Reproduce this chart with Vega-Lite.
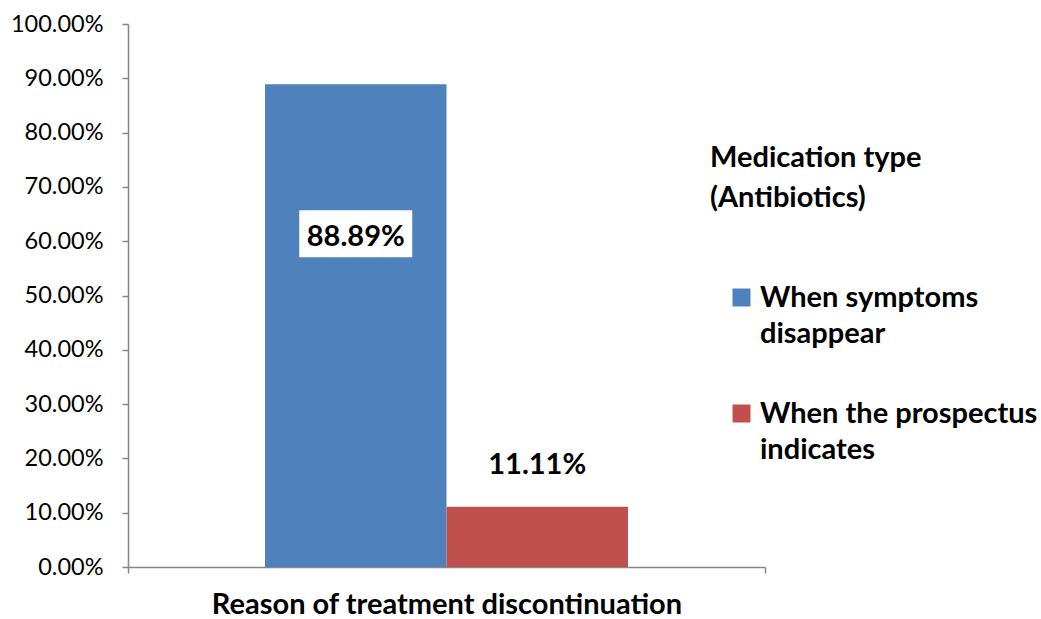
{
  "$schema": "https://vega.github.io/schema/vega-lite/v6.json",
  "width": 637,
  "height": 543,
  "autosize": "none",
  "padding": {"left": 128, "top": 24, "right": 276, "bottom": 52},
  "background": "white",
  "config": {"view": {"stroke": null}, "font": "Lato", "style": {"guide-label": {"lineHeight": 36}}},
  "data": {
    "values": [
      {"reason": "Reason of treatment discontinuation", "series": "When symptoms disappear", "value": 0.8889},
      {"reason": "Reason of treatment discontinuation", "series": "When the prospectus indicates", "value": 0.1111}
    ]
  },
  "encoding": {
    "x": {
      "field": "reason", "type": "nominal",
      "scale": {"paddingInner": 0, "paddingOuter": 0},
      "axis": {
        "labels": false, "title": "Reason of treatment discontinuation",
        "titleFont": "Lato", "titleFontSize": 29, "titleFontWeight": "bold", "titleColor": "black",
        "titlePadding": 17, "titleLimit": 700, "tickBand": "extent", "tickSize": 6,
        "domainColor": "#868686", "tickColor": "#868686", "domainWidth": 1.5, "tickWidth": 1.5
      }
    },
    "xOffset": {"field": "series", "type": "nominal", "sort": null, "scale": {"paddingInner": 0, "paddingOuter": 0.755}},
    "y": {
      "field": "value", "type": "quantitative",
      "scale": {"domain": [0, 1], "nice": false, "zero": true},
      "axis": {
        "title": null, "format": ".2%", "values": [0, 0.1, 0.2, 0.3, 0.4, 0.5, 0.6, 0.7, 0.8, 0.9, 1],
        "grid": false, "labelFont": "Lato", "labelFontSize": 23.5, "labelColor": "black",
        "labelPadding": 19, "tickSize": 6,
        "domainColor": "#868686", "tickColor": "#868686", "domainWidth": 1.5, "tickWidth": 1.5
      }
    }
  },
  "layer": [
    {
      "mark": {"type": "bar"},
      "encoding": {
        "color": {
          "field": "series", "type": "nominal", "sort": null,
          "scale": {"range": ["#4F81BD", "#C0504D"]},
          "legend": {
            "title": ["Medication type", "(Antibiotics)"],
            "orient": "none", "legendX": 582, "legendY": 120,
            "titleFont": "Lato", "titleFontSize": 29, "titleFontWeight": "bold", "titleColor": "black",
            "titleLineHeight": 40, "titlePadding": 70, "titleLimit": 400,
            "labelFont": "Lato", "labelFontSize": 29, "labelFontWeight": "bold", "labelColor": "black",
            "labelExpr": "datum.label == 'When symptoms disappear' ? ['When symptoms', 'disappear'] : ['When the prospectus', 'indicates']",
            "labelLimit": 400, "labelOffset": 4, "labelBaseline": "middle",
            "symbolType": "square", "symbolSize": 324, "symbolStrokeWidth": 0, "symbolOffset": 17,
            "rowPadding": 50
          }
        }
      }
    },
    {
      "transform": [{"filter": "datum.value > 0.5"}],
      "mark": {"type": "bar", "color": "white", "width": 113, "yOffset": 126, "y2Offset": 173},
      "encoding": {"y2": {"field": "value"}}
    },
    {
      "transform": [{"filter": "datum.value > 0.5"}],
      "mark": {"type": "text", "dy": 153, "fontSize": 29, "fontWeight": "bold", "font": "Lato", "color": "black", "baseline": "middle"},
      "encoding": {"text": {"field": "value", "format": ".2%"}}
    },
    {
      "transform": [{"filter": "datum.value < 0.5"}],
      "mark": {"type": "text", "dy": -42, "fontSize": 29, "fontWeight": "bold", "font": "Lato", "color": "black", "baseline": "middle"},
      "encoding": {"text": {"field": "value", "format": ".2%"}}
    }
  ]
}
